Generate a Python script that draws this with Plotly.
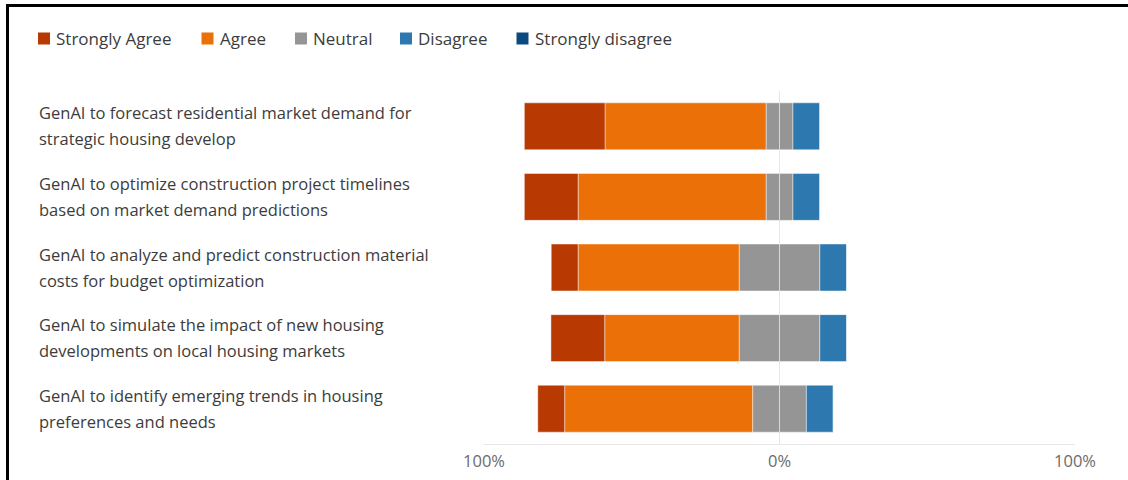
import plotly.graph_objects as go

# Survey statements (two display lines each), top to bottom
statements = [
    ["GenAI to forecast residential market demand for", "strategic housing develop"],
    ["GenAI to optimize construction project timelines", "based on market demand predictions"],
    ["GenAI to analyze and predict construction material", "costs for budget optimization"],
    ["GenAI to simulate the impact of new housing", "developments on local housing markets"],
    ["GenAI to identify emerging trends in housing", "preferences and needs"],
]

# Share of responses per answer (%)
strongly_agree = [27.3, 18.2, 9.1, 18.2, 9.1]
agree = [54.5, 63.6, 54.5, 45.5, 63.6]
neutral = [9.1, 9.1, 27.3, 27.3, 18.2]
disagree = [9.1, 9.1, 9.1, 9.1, 9.1]
strongly_disagree = [0, 0, 0, 0, 0]

legend_labels = ["Strongly Agree", "Agree", "Neutral", "Disagree", "Strongly disagree"]
tick_values = [-100, 0, 100]
tick_labels = ["100%", "0%", "100%"]

colors = {
    "Strongly Agree": "#B83A02",
    "Agree": "#EA7007",
    "Neutral": "#959595",
    "Disagree": "#2C78AF",
    "Strongly disagree": "#0B4A80",
}

FONT = "Open Sans"
W, H = 1128, 480
L, R, T, B = 484, 53, 91, 36
plot_w = W - L - R
plot_h = H - T - B


def px_x(px):
    return (px - L) / plot_w


def px_y(py):
    return (H - B - py) / plot_h


cats = [" ".join(s) for s in statements]
edge = dict(width=1, color="rgba(255,255,255,0.45)")

fig = go.Figure()

# Negative side stacks outward from zero: half of neutral, agree, strongly agree
fig.add_bar(y=cats, x=[-v / 2 for v in neutral], orientation="h",
            marker=dict(color=colors["Neutral"], line=edge), showlegend=False)
fig.add_bar(y=cats, x=[v / 2 for v in neutral], orientation="h",
            marker=dict(color=colors["Neutral"], line=edge), showlegend=False)
fig.add_bar(y=cats, x=[-v for v in agree], orientation="h",
            marker=dict(color=colors["Agree"], line=edge), showlegend=False)
fig.add_bar(y=cats, x=disagree, orientation="h",
            marker=dict(color=colors["Disagree"], line=edge), showlegend=False)
fig.add_bar(y=cats, x=[-v for v in strongly_agree], orientation="h",
            marker=dict(color=colors["Strongly Agree"], line=edge), showlegend=False)
fig.add_bar(y=cats, x=strongly_disagree, orientation="h",
            marker=dict(color=colors["Strongly disagree"], line=edge), showlegend=False)

# Category labels, left aligned in the margin
for cat, lines in zip(cats, statements):
    for i, line in enumerate(lines):
        fig.add_annotation(
            x=px_x(37), xref="paper", y=cat, yref="y",
            yshift=13.5 if i == 0 else -12.5,
            text=line, showarrow=False, xanchor="left", yanchor="middle",
            align="left", font=dict(family=FONT, size=16.5, color="#3c3c3c"),
        )

# Legend row
legend_x = [38, 201.5, 295, 400, 516.5]
for name, x0 in zip(legend_labels, legend_x):
    fig.add_shape(type="rect", xref="paper", yref="paper",
                  x0=px_x(x0), x1=px_x(x0 + 12), y0=px_y(44.5), y1=px_y(32.5),
                  fillcolor=colors[name], line=dict(width=0))
    fig.add_annotation(
        x=px_x(x0 + 16), xref="paper", y=px_y(38.5), yref="paper",
        text=name, showarrow=False, xanchor="left", yanchor="middle",
        font=dict(family=FONT, size=17, color="#3c3c3c"),
    )

# Frame
fig.add_shape(type="rect", xref="paper", yref="paper",
              x0=px_x(7.5), x1=px_x(W + 20), y0=px_y(H + 20), y1=px_y(5.5),
              line=dict(color="black", width=3), fillcolor="rgba(0,0,0,0)")

fig.update_layout(
    width=W, height=H,
    margin=dict(l=L, r=R, t=T, b=B, pad=0, autoexpand=False),
    barmode="relative",
    bargap=0.335,
    paper_bgcolor="white",
    plot_bgcolor="white",
    showlegend=False,
    xaxis=dict(
        range=[-100, 100], tickvals=tick_values, ticktext=tick_labels,
        showgrid=True, gridcolor="rgba(222,222,222,0.75)", gridwidth=1,
        zeroline=False, showline=True, linecolor="#e6e6e6", linewidth=1,
        layer="above traces", ticks="", ticklabelstandoff=2, automargin=False,
        tickfont=dict(family=FONT, size=16.5, color="#6b6b6b"),
        fixedrange=True,
    ),
    yaxis=dict(
        categoryorder="array", categoryarray=cats, autorange="reversed",
        showticklabels=False, showgrid=False, zeroline=False, ticks="",
        automargin=False, fixedrange=True,
    ),
)

fig.write_html("out.html")
